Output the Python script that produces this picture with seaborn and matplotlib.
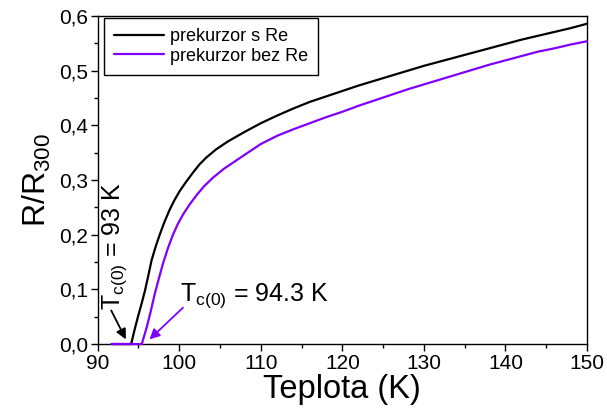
import numpy as np
import pandas as pd
import matplotlib
matplotlib.use("Agg")
import matplotlib.pyplot as plt
from matplotlib.ticker import FuncFormatter, MultipleLocator
import seaborn as sns

# data
t_s_re = [91.7, 93.9, 94.1, 94.5, 94.9, 95.4, 95.8, 96.2, 96.6, 97.1, 97.6, 98.2, 98.8,
          99.4, 100.1, 100.9, 101.7, 102.5, 103.3, 104.5, 106.0, 108.0, 110.0, 112.0,
          114.0, 116.0, 118.0, 120.0, 122.0, 124.0, 126.0, 128.0, 130.0, 132.0, 134.0,
          136.0, 138.0, 140.0, 142.0, 144.0, 146.0, 148.0, 150.0]
r_s_re = [0.0, 0.0, 0.0, 0.025, 0.048, 0.075, 0.098, 0.125, 0.153, 0.178, 0.2, 0.224, 0.245,
          0.263, 0.281, 0.298, 0.314, 0.329, 0.341, 0.356, 0.371, 0.388, 0.404, 0.418,
          0.431, 0.443, 0.453, 0.463, 0.473, 0.482, 0.491, 0.500, 0.509, 0.517, 0.525,
          0.533, 0.541, 0.549, 0.557, 0.564, 0.571, 0.578, 0.586]

t_bez_re = [91.7, 95.4, 96.0, 96.5, 97.0, 97.5, 98.0, 98.6, 99.2, 99.8, 100.5, 101.3, 102.1,
            103.0, 104.1, 105.5, 107.4, 110.0, 112.0, 114.0, 116.0, 118.0, 120.0, 122.0,
            124.0, 126.0, 128.0, 130.0, 132.0, 134.0, 136.0, 138.0, 140.0, 142.0, 144.0,
            146.0, 148.0, 150.0]
r_bez_re = [0.0, 0.0, 0.03, 0.06, 0.092, 0.12, 0.147, 0.175, 0.199, 0.219, 0.238, 0.256, 0.272,
            0.288, 0.304, 0.321, 0.34, 0.366, 0.381, 0.393, 0.404, 0.415, 0.425, 0.436,
            0.446, 0.456, 0.466, 0.475, 0.484, 0.493, 0.502, 0.511, 0.519, 0.527, 0.535,
            0.541, 0.548, 0.554]

labels = ["prekurzor s Re", "prekurzor bez Re"]
colors = ["#000000", "#8000ff"]

sns.set_style("ticks")
plt.rcParams["font.family"] = ["Liberation Sans", "DejaVu Sans"]
plt.rcParams["mathtext.fontset"] = "custom"
plt.rcParams["mathtext.rm"] = "Liberation Sans"
plt.rcParams["mathtext.it"] = "Liberation Sans:italic"
for k in ["text.color", "axes.labelcolor", "xtick.color", "ytick.color", "axes.edgecolor"]:
    plt.rcParams[k] = "black"

df = pd.concat([
    pd.DataFrame({"T": t_s_re, "R": r_s_re, "vzorek": labels[0]}),
    pd.DataFrame({"T": t_bez_re, "R": r_bez_re, "vzorek": labels[1]}),
])

fig, ax = plt.subplots(figsize=(6.07, 4.13), dpi=100)
fig.subplots_adjust(left=0.161, right=0.967, bottom=0.167, top=0.961)

sns.lineplot(data=df, x="T", y="R", hue="vzorek", palette=colors, sort=False,
             estimator=None, linewidth=1.6, ax=ax)
for ln in ax.get_lines():
    ln.set_clip_on(False)
    ln.set_zorder(3)

ax.set_xlim(90, 150)
ax.set_ylim(0, 0.6)
ax.xaxis.set_major_locator(MultipleLocator(10))
ax.xaxis.set_minor_locator(MultipleLocator(5))
ax.yaxis.set_major_locator(MultipleLocator(0.1))
ax.yaxis.set_minor_locator(MultipleLocator(0.05))
ax.yaxis.set_major_formatter(FuncFormatter(lambda v, p: f"{v:.1f}".replace(".", ",")))
ax.tick_params(which="major", length=5, width=1, labelsize=15, direction="out",
               top=False, right=False, pad=2)
ax.tick_params(which="minor", length=3, width=1, direction="out", top=False, right=False)
for s in ax.spines.values():
    s.set_linewidth(1)

ax.set_xlabel("Teplota (K)", fontsize=23.5, labelpad=1)
ax.set_ylabel(r"R/R$_{\mathregular{300}}$", fontsize=23, labelpad=4)

leg = ax.legend(loc="upper left", bbox_to_anchor=(0.012, 0.994), borderaxespad=0,
                fontsize=13, frameon=True, fancybox=False, edgecolor="black",
                framealpha=1, handlelength=2.8, handletextpad=0.3,
                borderpad=0.55, labelspacing=0.15)
leg.get_frame().set_linewidth(1)
for h in leg.get_lines():
    h.set_linewidth(1.6)

ax.annotate("", xy=(93.6, 0.004), xytext=(91.5, 0.066),
            arrowprops=dict(arrowstyle="-|>", color="black", lw=1.3, mutation_scale=15))
ax.text(92.1, 0.062, r"T$_{\mathregular{c(0)}}$ = 93 K", rotation=90, ha="center",
        va="bottom", fontsize=18)
ax.annotate("", xy=(96.1, 0.005), xytext=(100.7, 0.07),
            arrowprops=dict(arrowstyle="-|>", color="#8000ff", lw=1.3, mutation_scale=15))
ax.text(100.1, 0.079, r"T$_{\mathregular{c(0)}}$ = 94.3 K", ha="left", va="baseline",
        fontsize=18)

fig.savefig("out.png", dpi=100)
